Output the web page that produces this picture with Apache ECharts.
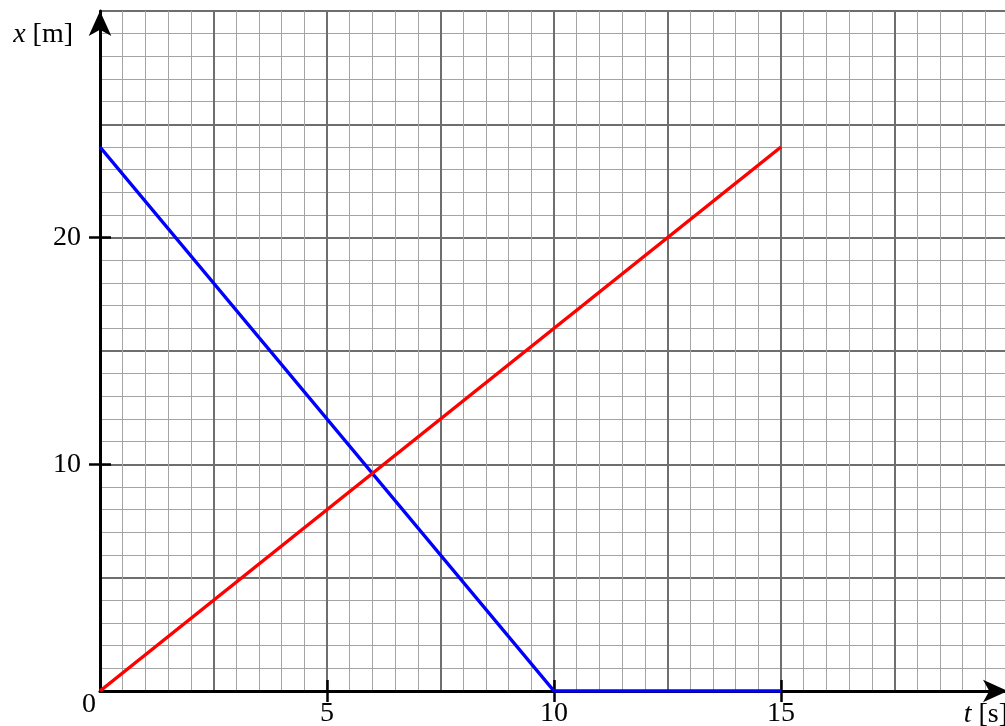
<!DOCTYPE html>
<html>
<head>
<meta charset="utf-8">
<script src="https://cdn.jsdelivr.net/npm/echarts@6/dist/echarts.min.js"></script>
<style>
  html,body{margin:0;padding:0;background:#fff;}
  #chart{width:1005px;height:726px;}
</style>
</head>
<body>
<div id="chart"></div>
<script>
// data
var tBlue = [0, 10, 15];
var xBlue = [24, 0, 0];
var tRed = [0, 15];
var xRed = [0, 24];
// tick labels
var tTicks = [5, 10, 15];
var xTicks = [10, 20];
var tMax = 20, xMax = 30;

var font = 'Liberation Serif';
var fs = 28;
var chart = echarts.init(document.getElementById('chart'));

function pairs(a, b) {
  return a.map(function (v, i) { return [v, b[i]]; });
}

//网格轴
var gridX = {
  type: 'value', position: 'bottom', min: 0, max: tMax, interval: 2.5,
  axisLine: {show: false}, axisTick: {show: false}, axisLabel: {show: false},
  splitLine: {show: true, lineStyle: {color: '#6e6e6e', width: 2}},
  minorTick: {show: false, splitNumber: 5},
  minorSplitLine: {show: true, lineStyle: {color: '#a4a4a4', width: 1}}
};
var gridY = {
  type: 'value', position: 'left', min: 0, max: xMax, interval: 5,
  axisLine: {show: false}, axisTick: {show: false}, axisLabel: {show: false},
  splitLine: {show: true, lineStyle: {color: '#6e6e6e', width: 2}},
  minorTick: {show: false, splitNumber: 5},
  minorSplitLine: {show: true, lineStyle: {color: '#a4a4a4', width: 1}}
};

var option = {
  animation: false,
  backgroundColor: '#fff',
  grid: {left: 100, top: 11, width: 908, height: 680, outerBoundsMode: 'none', containLabel: false},
  xAxis: [
    gridX,
    {//主轴
      type: 'value', position: 'bottom', min: 0, max: tMax,
      name: '{i|t} [s]', nameLocation: 'end', nameGap: 0,
      nameTextStyle: {
        fontFamily: font, fontSize: fs, color: '#000', align: 'right', verticalAlign: 'middle',
        padding: [48, 0, 0, 0], rich: {i: {fontFamily: font, fontSize: fs, fontStyle: 'italic'}}
      },
      axisLine: {show: true, onZero: false, symbol: ['none', 'arrow'], symbolSize: [17, 25], symbolOffset: [0, 0],
        lineStyle: {color: '#000', width: 3}},
      axisTick: {show: true, length: 11, customValues: tTicks, lineStyle: {color: '#000', width: 2.5}},
      axisLabel: {show: true, customValues: tTicks, margin: 9, fontFamily: font, fontSize: fs, color: '#000'},
      splitLine: {show: false}
    },
    {//内侧刻度 + 原点0
      type: 'value', position: 'bottom', min: 0, max: tMax,
      axisLine: {show: false},
      axisTick: {show: true, inside: true, length: 11, customValues: tTicks, lineStyle: {color: '#000', width: 2.5}},
      axisLabel: {show: true, customValues: [0], margin: 0, fontFamily: font, fontSize: fs, color: '#000',
        formatter: function (v) { return '{z|' + v + '}'; },
        rich: {z: {fontFamily: font, fontSize: fs, color: '#000', padding: [0, 22, 0, 0]}}},
      splitLine: {show: false}
    }
  ],
  yAxis: [
    gridY,
    {
      type: 'value', position: 'left', min: 0, max: xMax,
      name: '{i|x} [m]', nameLocation: 'end', nameGap: -24,
      nameTextStyle: {
        fontFamily: font, fontSize: fs, color: '#000', align: 'right', verticalAlign: 'middle',
        padding: [0, 27, 0, 0], rich: {i: {fontFamily: font, fontSize: fs, fontStyle: 'italic'}}
      },
      axisLine: {show: true, onZero: false, symbol: ['none', 'arrow'], symbolSize: [17, 25], symbolOffset: [0, 0],
        lineStyle: {color: '#000', width: 3}},
      axisTick: {show: true, length: 11, customValues: xTicks, lineStyle: {color: '#000', width: 2.5}},
      axisLabel: {show: true, customValues: xTicks, margin: 19, fontFamily: font, fontSize: fs, color: '#000'},
      splitLine: {show: false}
    },
    {
      type: 'value', position: 'left', min: 0, max: xMax,
      axisLine: {show: false},
      axisTick: {show: true, inside: true, length: 11, customValues: xTicks, lineStyle: {color: '#000', width: 2.5}},
      axisLabel: {show: false},
      splitLine: {show: false}
    }
  ],
  series: [
    {
      type: 'line', xAxisIndex: 1, yAxisIndex: 1, data: pairs(tBlue, xBlue),
      symbol: 'none', lineStyle: {color: '#0000ff', width: 3.5}, itemStyle: {color: '#0000ff'}, z: 5
    },
    {
      type: 'line', xAxisIndex: 1, yAxisIndex: 1, data: pairs(tRed, xRed),
      symbol: 'none', lineStyle: {color: '#ff0000', width: 3.5}, itemStyle: {color: '#ff0000'}, z: 5
    }
  ]
};
chart.setOption(option);
</script>
</body>
</html>
